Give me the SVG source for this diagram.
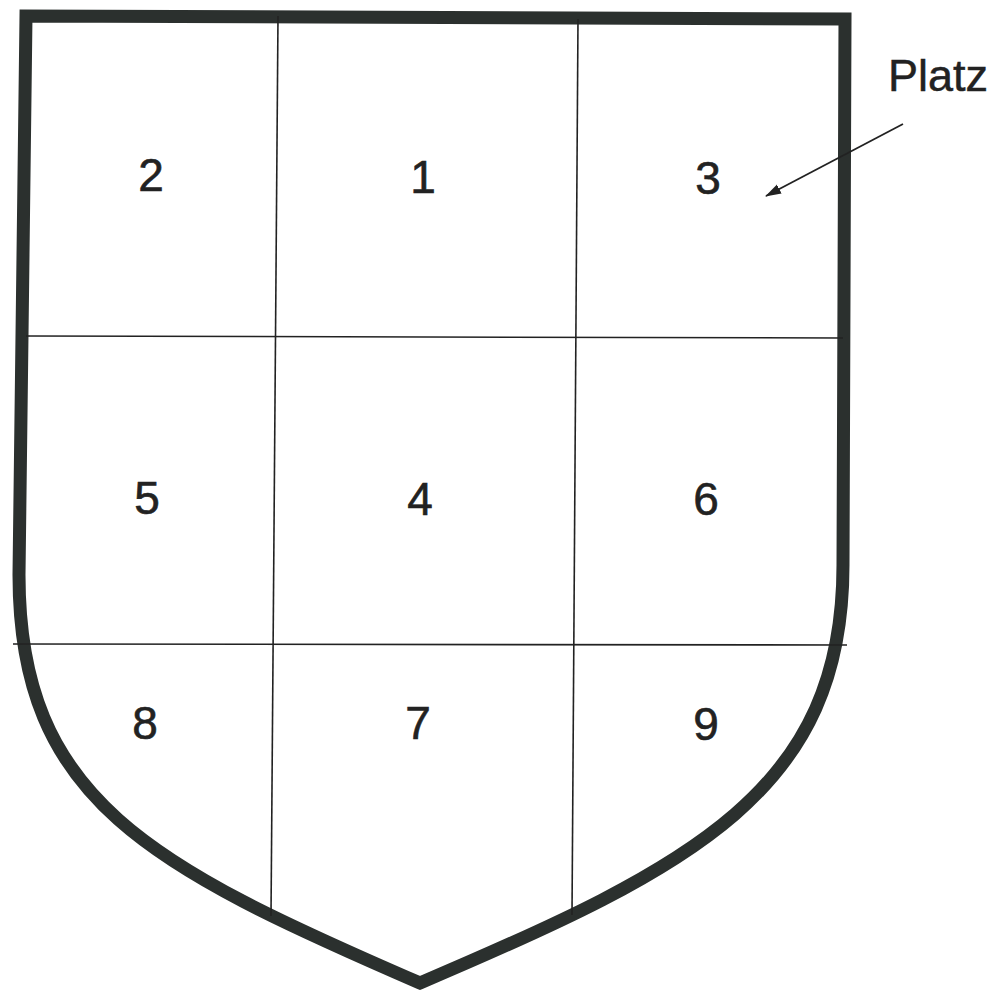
<svg xmlns="http://www.w3.org/2000/svg" width="1001" height="998" viewBox="0 0 1001 998">
<style>
.shield{fill:none;stroke:#2b302e;stroke-width:13;stroke-linejoin:miter;stroke-miterlimit:10}
.grid{stroke:#222;stroke-width:1.6;fill:none}
.num{font-family:"Liberation Sans",Arial,sans-serif;font-size:46px;fill:#222;stroke:#222;stroke-width:0.6;text-anchor:middle}
.lbl{font-family:"Liberation Sans",Arial,sans-serif;font-size:45px;fill:#222;stroke:#222;stroke-width:0.5}
</style>
<defs>
<marker id="ah" markerWidth="16" markerHeight="12" refX="15" refY="6" orient="auto" markerUnits="userSpaceOnUse">
<path d="M0,1 L16,6 L0,11 Z" fill="#222"/>
</marker>
</defs>
<rect width="1001" height="998" fill="#fff"/>
<g id="shield">
<path class="shield" d="M420,983 C150,866 19,800 19,575 L26,16 L845,19 L843,565 C843,790 695,866 420,983 Z"/>
</g>
<g id="connectors">
<line class="grid" x1="278" y1="16" x2="271" y2="916"/>
<line class="grid" x1="578" y1="19" x2="572" y2="915"/>
<line class="grid" x1="26" y1="336" x2="843" y2="338"/>
<line class="grid" x1="13" y1="644" x2="847" y2="645"/>
<line stroke="#222" stroke-width="1.8" x1="903" y1="124" x2="766" y2="196" marker-end="url(#ah)"/>
</g>
<g id="field-2"><text class="num" x="151" y="191">2</text></g>
<g id="field-1"><text class="num" x="423" y="193">1</text></g>
<g id="field-3"><text class="num" x="708" y="194">3</text></g>
<g id="field-5"><text class="num" x="147" y="514">5</text></g>
<g id="field-4"><text class="num" x="420" y="515">4</text></g>
<g id="field-6"><text class="num" x="706" y="515">6</text></g>
<g id="field-8"><text class="num" x="145" y="739">8</text></g>
<g id="field-7"><text class="num" x="418" y="739">7</text></g>
<g id="field-9"><text class="num" x="706" y="740">9</text></g>
<g id="label-platz"><text class="lbl" x="888" y="91">Platz</text></g>
</svg>
